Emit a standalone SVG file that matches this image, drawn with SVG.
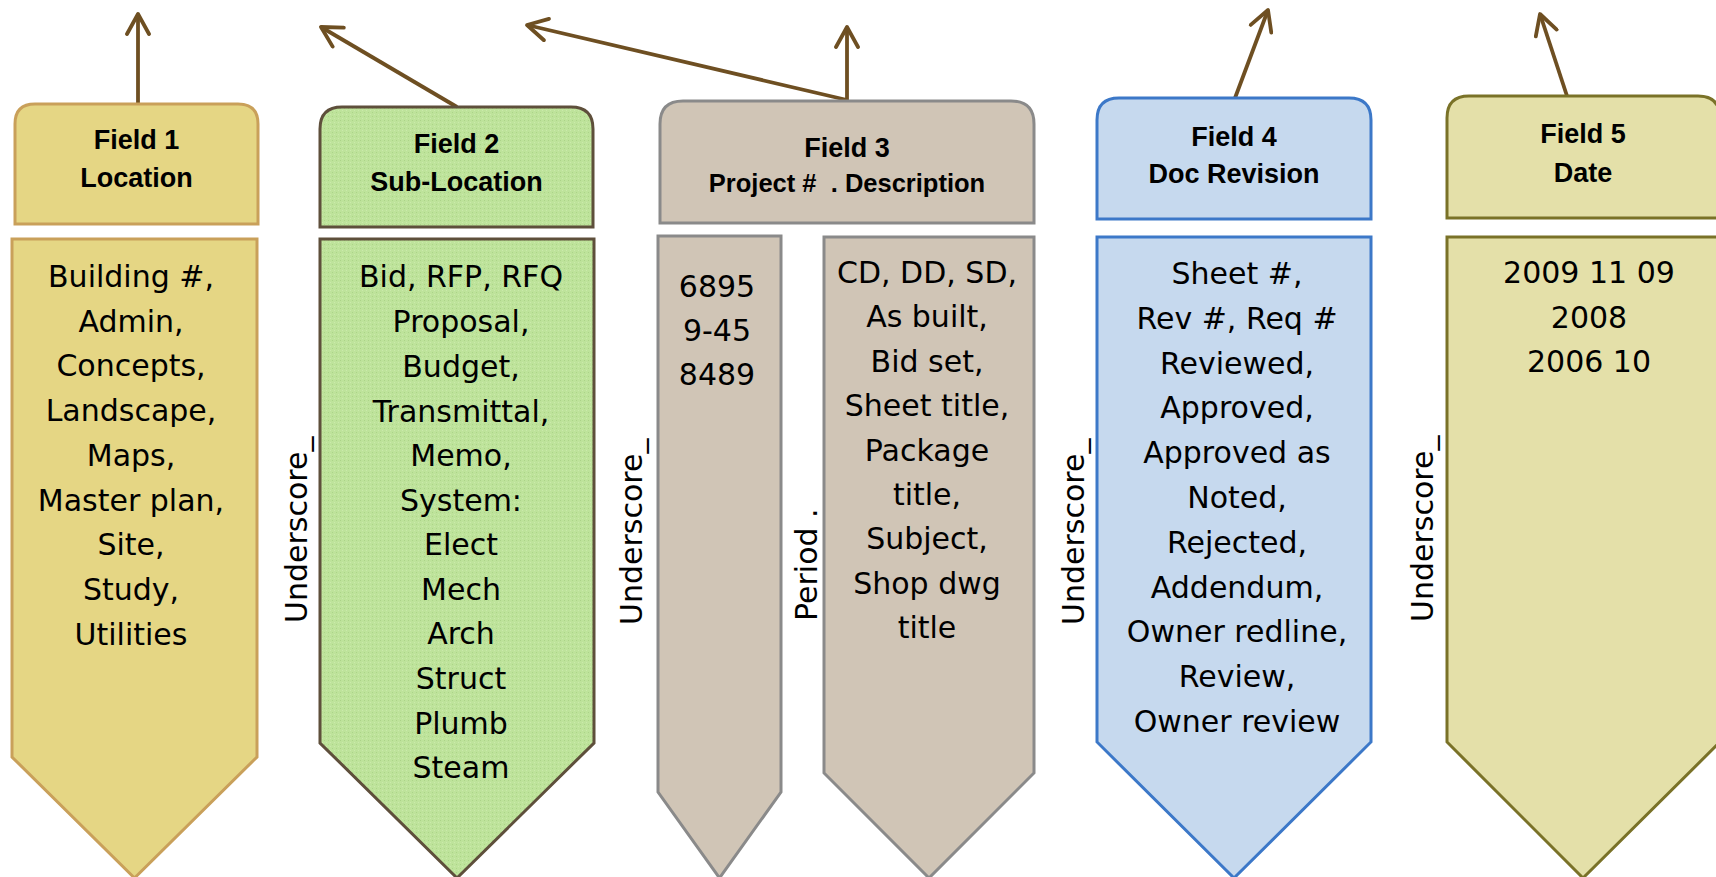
<svg xmlns="http://www.w3.org/2000/svg" width="1716" height="877" viewBox="0 0 1716 877">
<defs>
<style>
.hd{font-family:"Liberation Sans",Arial,sans-serif;font-weight:bold;font-size:27px;fill:#000;text-anchor:middle}
.hs{font-size:25.5px}
.bt{font-family:"DejaVu Sans","Liberation Sans",sans-serif;font-size:30px;fill:#000;text-anchor:middle}
.vl{font-family:"DejaVu Sans","Liberation Sans",sans-serif;font-size:30px;fill:#000;text-anchor:start}
.f1{fill:#E5D684;stroke:#C9A05A;stroke-width:3}
.f2{fill:url(#tex);stroke:#5E4F3B;stroke-width:3}
.f3{fill:#D0C5B6;stroke:#8A8A8A;stroke-width:3}
.f4{fill:#C6D9EE;stroke:#3C78C8;stroke-width:3}
.f5{fill:#E4E0A9;stroke:#7A7228;stroke-width:3}
.con{fill:none;stroke:#6E4F22;stroke-width:3.8;marker-end:url(#arr)}
</style>
<pattern id="tex" width="4" height="4" patternUnits="userSpaceOnUse">
<rect width="4" height="4" fill="#BEE39B"/>
<rect x="0" y="0" width="1" height="1" fill="#ACD488"/>
<rect x="2" y="2" width="1" height="1" fill="#CBEAAC"/>
</pattern>
<marker id="arr" viewBox="-23 -13 26 26" markerWidth="26" markerHeight="26" refX="0" refY="0" orient="auto" markerUnits="userSpaceOnUse">
<path d="M-20,-11 L0,0 L-20,11" fill="none" stroke="#6E4F22" stroke-width="3.8" stroke-linecap="round" stroke-linejoin="round"/>
</marker>
</defs>
<rect width="1716" height="877" fill="#FFFFFF"/>

<g id="connectors">
<line class="con" x1="138" y1="104" x2="138" y2="14"/>
<line class="con" x1="457" y1="107" x2="321" y2="27"/>
<line class="con" x1="847" y1="100" x2="527" y2="25"/>
<line class="con" x1="847" y1="100" x2="847" y2="27"/>
<line class="con" x1="1235" y1="98" x2="1268" y2="10"/>
<line class="con" x1="1567" y1="96" x2="1540" y2="14"/>
</g>

<g id="field1">
<path class="f1" d="M15,224 L15,124 Q15,104 35,104 L238,104 Q258,104 258,124 L258,224 Z"/>
<text class="hd" x="136.5" y="149">Field 1</text>
<text class="hd" x="136.5" y="187">Location</text>
<path class="f1" d="M12,239 L257,239 L257,757 L134.5,878 L12,757 Z"/>
<text class="bt" x="131" y="287">Building #,</text>
<text class="bt" x="131" y="331.7">Admin,</text>
<text class="bt" x="131" y="376.4">Concepts,</text>
<text class="bt" x="131" y="421.1">Landscape,</text>
<text class="bt" x="131" y="465.8">Maps,</text>
<text class="bt" x="131" y="510.5">Master plan,</text>
<text class="bt" x="131" y="555.2">Site,</text>
<text class="bt" x="131" y="599.9">Study,</text>
<text class="bt" x="131" y="644.6">Utilities</text>
</g>

<g id="field2">
<path class="f2" d="M320,227 L320,129 Q320,107 342,107 L571,107 Q593,107 593,129 L593,227 Z"/>
<text class="hd" x="456.5" y="153">Field 2</text>
<text class="hd" x="456.5" y="191">Sub-Location</text>
<path class="f2" d="M320,239 L594,239 L594,743 L457,878 L320,743 Z"/>
<text class="vl" transform="translate(307,623) rotate(-90)">Underscore_</text>
<text class="bt" x="461" y="287">Bid, RFP, RFQ</text>
<text class="bt" x="461" y="332">Proposal,</text>
<text class="bt" x="461" y="376.5">Budget,</text>
<text class="bt" x="461" y="421.5">Transmittal,</text>
<text class="bt" x="461" y="466">Memo,</text>
<text class="bt" x="461" y="510.5">System:</text>
<text class="bt" x="461" y="555">Elect</text>
<text class="bt" x="461" y="599.5">Mech</text>
<text class="bt" x="461" y="644">Arch</text>
<text class="bt" x="461" y="689">Struct</text>
<text class="bt" x="461" y="733.5">Plumb</text>
<text class="bt" x="461" y="778">Steam</text>
</g>

<g id="field3">
<path class="f3" d="M660,223 L660,124 Q660,101 683,101 L1011,101 Q1034,101 1034,124 L1034,223 Z"/>
<text class="hd" x="847" y="157">Field 3</text>
<text class="hd hs" x="847" y="192" xml:space="preserve">Project #  . Description</text>
<text class="vl" transform="translate(642,625) rotate(-90)">Underscore_</text>
<path class="f3" d="M658,236 L781,236 L781,792 L719.5,878 L658,792 Z"/>
<text class="bt" x="717" y="297">6895</text>
<text class="bt" x="717" y="341">9-45</text>
<text class="bt" x="717" y="385">8489</text>
<text class="vl" transform="translate(817,621) rotate(-90)">Period .</text>
<path class="f3" d="M824,237 L1034,237 L1034,773 L929,878 L824,773 Z"/>
<text class="bt" x="927" y="283">CD, DD, SD,</text>
<text class="bt" x="927" y="327.4">As built,</text>
<text class="bt" x="927" y="371.8">Bid set,</text>
<text class="bt" x="927" y="416.2">Sheet title,</text>
<text class="bt" x="927" y="460.6">Package</text>
<text class="bt" x="927" y="505">title,</text>
<text class="bt" x="927" y="549.4">Subject,</text>
<text class="bt" x="927" y="593.8">Shop dwg</text>
<text class="bt" x="927" y="638.2">title</text>
</g>

<g id="field4">
<path class="f4" d="M1097,219 L1097,120 Q1097,98 1119,98 L1349,98 Q1371,98 1371,120 L1371,219 Z"/>
<text class="hd" x="1234" y="146">Field 4</text>
<text class="hd" x="1234" y="183">Doc Revision</text>
<text class="vl" transform="translate(1084,625) rotate(-90)">Underscore_</text>
<path class="f4" d="M1097,237 L1371,237 L1371,742 L1234,878 L1097,742 Z"/>
<text class="bt" x="1237" y="284">Sheet #,</text>
<text class="bt" x="1237" y="328.8">Rev #, Req #</text>
<text class="bt" x="1237" y="373.6">Reviewed,</text>
<text class="bt" x="1237" y="418.4">Approved,</text>
<text class="bt" x="1237" y="463.2">Approved as</text>
<text class="bt" x="1237" y="508">Noted,</text>
<text class="bt" x="1237" y="552.8">Rejected,</text>
<text class="bt" x="1237" y="597.6">Addendum,</text>
<text class="bt" x="1237" y="642.4">Owner redline,</text>
<text class="bt" x="1237" y="687.2">Review,</text>
<text class="bt" x="1237" y="732">Owner review</text>
</g>

<g id="field5">
<path class="f5" d="M1447,218 L1447,118 Q1447,96 1469,96 L1698,96 Q1720,96 1720,118 L1720,218 Z"/>
<text class="hd" x="1583" y="143">Field 5</text>
<text class="hd" x="1583" y="182">Date</text>
<text class="vl" transform="translate(1433,622) rotate(-90)">Underscore_</text>
<path class="f5" d="M1447,237 L1720,237 L1720,742 L1583,878 L1447,742 Z"/>
<text class="bt" x="1589" y="283">2009 11 09</text>
<text class="bt" x="1589" y="327.5">2008</text>
<text class="bt" x="1589" y="372">2006 10</text>
</g>
</svg>
